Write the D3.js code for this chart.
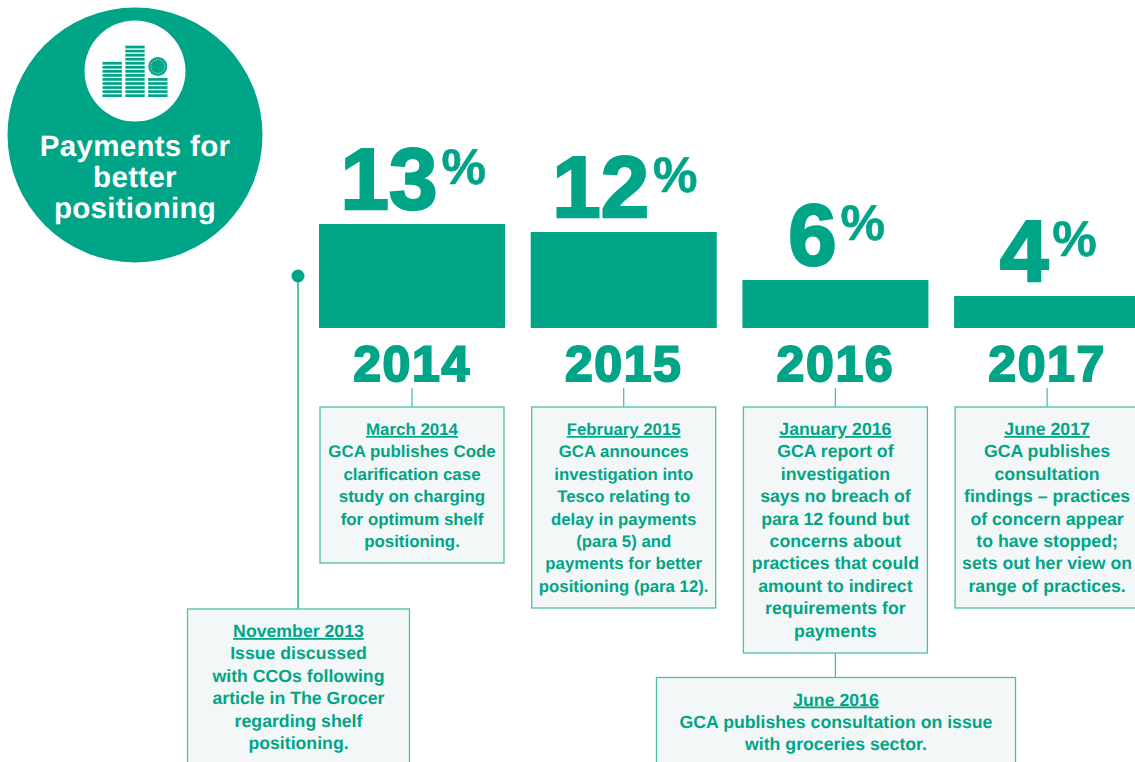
<!DOCTYPE html>
<html>
<head>
<meta charset="utf-8">
<script src="https://cdn.jsdelivr.net/npm/d3@7"></script>
<style>
  html, body { margin: 0; padding: 0; background: #fff; overflow: hidden; }
  text { font-family: "Liberation Sans", Arial, sans-serif; font-weight: bold; text-rendering: geometricPrecision; }
</style>
</head>
<body>
<div id="svg"></div>
<script>
const years = ['2014', '2015', '2016', '2017']
const shares = [13, 12, 6, 4]

// stacks of coins in the badge icon
const coinStacks = [9, 13, 5]

const titleLines = ['Payments for', 'better', 'positioning']

const yearDates = ['March 2014', 'February 2015', 'January 2016', 'June 2017']
const yearNotes = [
  ['GCA publishes Code', 'clarification case', 'study on charging', 'for optimum shelf', 'positioning.'],
  ['GCA announces', 'investigation into', 'Tesco relating to', 'delay in payments', '(para 5) and', 'payments for better', 'positioning (para 12).'],
  ['GCA report of', 'investigation', 'says no breach of', 'para 12 found but', 'concerns about', 'practices that could', 'amount to indirect', 'requirements for', 'payments'],
  ['GCA publishes', 'consultation', 'findings \u2013 practices', 'of concern appear', 'to have stopped;', 'sets out her view on', 'range of practices.']
]

const startDate = 'November 2013'
const startNote = ['Issue discussed', 'with CCOs following', 'article in The Grocer', 'regarding shelf', 'positioning.']

const laterDate = 'June 2016'
const laterNote = ['GCA publishes consultation on issue', 'with groceries sector.']

const width = 1135
const height = 762
const green = '#00a587'
const boxFill = '#f3f7f7'
const boxLine = '#4dbfa9'
const lineGap = 22.4

const svg = d3.select('#svg')
              .append('svg')
                .attr('width', width)
                .attr('height', height)
                .style('display', 'block')

// bars: 186 wide, the last one runs off the page
const x = d3.scaleBand()
  .domain(years)
  .range([319, 1140.1])
  .paddingInner(25.7 / 211.7)
  .paddingOuter(0)

const baseline = 328
const y = d3.scaleLinear().domain([0, 13]).range([baseline, 224])

svg.selectAll('rect.bar')
  .data(years)
  .join('rect')
    .attr('class', 'bar')
    .attr('x', d => x(d))
    .attr('y', (d, i) => y(shares[i]))
    .attr('width', x.bandwidth())
    .attr('height', (d, i) => baseline - y(shares[i]))
    .attr('fill', green)

// value labels: big number with a small raised percent sign
shares.forEach(function(v, i) {
  const cx = x(years[i]) + x.bandwidth() / 2
  const top = y(v)
  const num = svg.append('text')
    .attr('x', cx - 23)
    .attr('y', top - 15)
    .attr('text-anchor', 'middle')
    .attr('font-size', 87)
    .attr('fill', green)
    .attr('stroke', green)
    .attr('stroke-width', 2.5)
    .text(v)
  const numRight = cx - 23 + num.node().getComputedTextLength() / 2
  svg.append('text')
    .attr('x', numRight + 4)
    .attr('y', top - 40)
    .attr('font-size', 50)
    .attr('fill', green)
    .attr('stroke', green)
    .attr('stroke-width', 0.6)
    .text('%')
})

// year labels and connectors
years.forEach(function(d) {
  const cx = x(d) + x.bandwidth() / 2
  svg.append('text')
    .attr('x', cx)
    .attr('y', 381)
    .attr('text-anchor', 'middle')
    .attr('font-size', 50)
    .attr('letter-spacing', 1.6)
    .attr('fill', green)
    .attr('stroke', green)
    .attr('stroke-width', 2)
    .text(d)
  svg.append('line')
    .attr('x1', cx).attr('x2', cx)
    .attr('y1', 388).attr('y2', 407)
    .attr('stroke', boxLine)
    .attr('stroke-width', 1.3)
})

// a note box with an underlined date over centred lines
function noteBox(left, top, w, h, date, lines, size) {
  const cx = left + w / 2
  svg.append('rect')
    .attr('x', left).attr('y', top)
    .attr('width', w).attr('height', h)
    .attr('fill', boxFill)
    .attr('stroke', boxLine)
    .attr('stroke-width', 1.3)
  const firstBase = top + 28
  svg.append('text')
    .attr('x', cx).attr('y', firstBase)
    .attr('text-anchor', 'middle')
    .attr('font-size', size)
    .attr('text-decoration', 'underline')
    .attr('fill', green)
    .text(date)
  svg.selectAll(null)
    .data(lines)
    .join('text')
      .attr('x', cx)
      .attr('y', (d, i) => firstBase + (i + 1) * lineGap)
      .attr('text-anchor', 'middle')
      .attr('font-size', size)
      .attr('fill', green)
      .text(d => d)
}

// the first two year notes are set slightly smaller in the original
const boxHeights = [156, 201, 246, 201]
const boxTextSizes = [16.9, 16.8, 17.7, 17.7]
years.forEach(function(d, i) {
  noteBox(x(d) + 1, 407, x.bandwidth() - 2, boxHeights[i], yearDates[i], yearNotes[i], boxTextSizes[i])
})

// timeline stem down to the first note
svg.append('line')
  .attr('x1', 298).attr('x2', 298)
  .attr('y1', 276).attr('y2', 609)
  .attr('stroke', green)
  .attr('stroke-width', 1.3)
svg.append('circle')
  .attr('cx', 298).attr('cy', 276).attr('r', 6.5)
  .attr('fill', green)
noteBox(187.5, 609, 222, 170, startDate, startNote, 17.7)

// stem from the 2016 note to the June 2016 note
const cx2016 = x('2016') + x.bandwidth() / 2
svg.append('line')
  .attr('x1', cx2016).attr('x2', cx2016)
  .attr('y1', 653).attr('y2', 678)
  .attr('stroke', boxLine)
  .attr('stroke-width', 1.3)
noteBox(656.5, 677.5, 359, 110, laterDate, laterNote, 17.7)

// badge
svg.append('circle')
  .attr('cx', 135).attr('cy', 135).attr('r', 127.5)
  .attr('fill', green)
svg.append('circle')
  .attr('cx', 135).attr('cy', 71).attr('r', 50.5)
  .attr('fill', '#fff')

svg.selectAll(null)
  .data(titleLines)
  .join('text')
    .attr('x', 135)
    .attr('y', (d, i) => 156 + i * 31)
    .attr('text-anchor', 'middle')
    .attr('font-size', 29.5)
    .attr('letter-spacing', 0.3)
    .attr('fill', '#fff')
    .text(d => d)

// icon: coin stacks, one coin standing on the third stack
const stackX = d3.scaleBand().domain(d3.range(coinStacks.length)).range([102.5, 167.5]).paddingInner(0.15)
const coinStep = 4.05
coinStacks.forEach(function(n, s) {
  svg.selectAll(null)
    .data(d3.range(n))
    .join('rect')
      .attr('x', stackX(s))
      .attr('y', c => 97 - 2.7 - c * coinStep)
      .attr('width', stackX.bandwidth())
      .attr('height', 2.7)
      .attr('fill', green)
})
const coinCx = stackX(2) + stackX.bandwidth() / 2
svg.append('circle')
  .attr('cx', coinCx).attr('cy', 66.5).attr('r', 9.5)
  .attr('fill', green)
svg.append('circle')
  .attr('cx', coinCx).attr('cy', 66.5).attr('r', 7)
  .attr('fill', 'none')
  .attr('stroke', '#d5efe9')
  .attr('stroke-width', 0.8)
  .attr('stroke-dasharray', '1.2 1')
</script>
</body>
</html>
